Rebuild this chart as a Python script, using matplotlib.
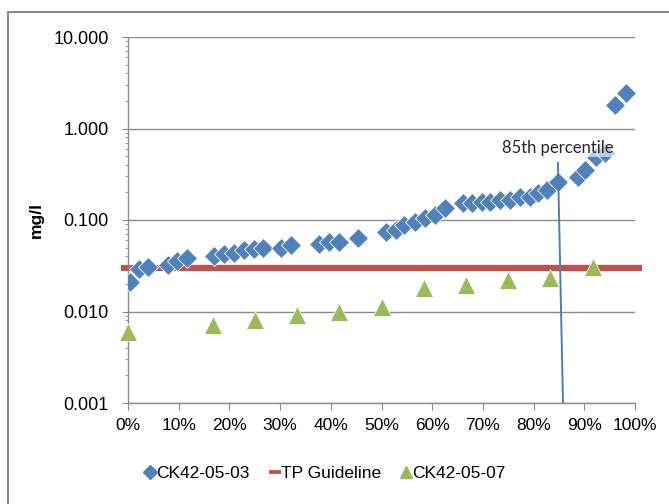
import matplotlib
matplotlib.use("Agg")
import matplotlib.pyplot as plt
from matplotlib.patches import Rectangle
from matplotlib.lines import Line2D
from matplotlib.ticker import LogLocator, NullFormatter

# ---- data ----
ck03_pct = [0.3, 2.2, 3.9, 7.8, 9.7, 11.7, 17.0, 19.0, 21.0, 22.9, 24.9, 26.6,
            30.2, 32.1, 37.7, 39.7, 41.7, 45.3, 50.9, 52.9, 54.5, 56.6, 58.6,
            60.5, 62.5, 66.1, 67.8, 69.8, 71.4, 73.4, 75.3, 77.3, 79.3, 80.9,
            82.6, 84.8, 88.8, 90.1, 92.4, 94.1, 96.1, 98.2]
ck03_val = [0.021, 0.029, 0.031, 0.032, 0.036, 0.038, 0.040, 0.042, 0.044, 0.047,
            0.048, 0.049, 0.050, 0.053, 0.055, 0.057, 0.057, 0.064, 0.074, 0.077,
            0.088, 0.096, 0.104, 0.113, 0.134, 0.152, 0.152, 0.158, 0.158, 0.165,
            0.165, 0.178, 0.180, 0.195, 0.212, 0.262, 0.297, 0.350, 0.490, 0.535,
            1.81, 2.43]
ck07_pct = [0.0, 16.7, 25.0, 33.3, 41.7, 50.0, 58.3, 66.7, 75.0, 83.3, 91.7]
ck07_val = [0.0060, 0.0071, 0.0081, 0.0092, 0.0100, 0.0113, 0.0179, 0.0195,
            0.0221, 0.0231, 0.0304]
tp_guideline = 0.03
pct85_line_x = [84.8, 85.8]
pct85_line_y = [0.42, 0.001]
x_ticks = [0, 10, 20, 30, 40, 50, 60, 70, 80, 90, 100]
x_ticklabels = ['0%', '10%', '20%', '30%', '40%', '50%', '60%', '70%', '80%', '90%', '100%']
y_ticks = [0.001, 0.01, 0.1, 1, 10]
y_ticklabels = ['0.001', '0.010', '0.100', '1.000', '10.000']

BLUE = '#4F81BD'
RED = '#C0504D'
GREEN = '#9BBB59'
GRID = '#8C8C8C'

fig = plt.figure(figsize=(6.69, 5.04), dpi=100)
fig.patch.set_facecolor('white')
ax = fig.add_axes([128/669, 1-403/504, (635-128)/669, (403-37)/504])

ax.set_yscale('log')
ax.set_ylim(0.001, 10)
ax.set_xlim(0, 100)

ax.set_yticks(y_ticks)
ax.set_yticklabels(y_ticklabels, fontfamily='Liberation Sans', fontsize=13)
ax.yaxis.set_minor_locator(LogLocator(base=10, subs=range(2, 10)))
ax.yaxis.set_minor_formatter(NullFormatter())
ax.set_xticks(x_ticks)
ax.set_xticklabels(x_ticklabels, fontfamily='Liberation Sans', fontsize=12.5)

ax.grid(axis='y', which='major', color=GRID, linewidth=1.0)
ax.set_axisbelow(True)
for s in ['top', 'right']:
    ax.spines[s].set_visible(False)
for s in ['left', 'bottom']:
    ax.spines[s].set_color(GRID)
    ax.spines[s].set_linewidth(1.0)
ax.tick_params(axis='y', which='major', length=4, color=GRID, pad=10)
ax.tick_params(axis='y', which='minor', length=2, color=GRID)
ax.tick_params(axis='x', which='major', length=5, color=GRID, pad=6)

# TP guideline
ax.plot([-1.3, 101.3], [tp_guideline, tp_guideline], color=RED, linewidth=4.5,
        solid_capstyle='butt', clip_on=False, zorder=2)
# series
ax.plot(ck03_pct, ck03_val, linestyle='none', marker='D', markersize=10,
        color=BLUE, markeredgecolor='white', markeredgewidth=0.6, zorder=3)
ax.plot(ck07_pct, ck07_val, linestyle='none', marker='^', markersize=13.5,
        color=GREEN, markeredgecolor='white', markeredgewidth=0.5, zorder=3, clip_on=False)
# 85th percentile line
ax.plot(pct85_line_x, pct85_line_y, color='#4A7EBB', linewidth=1.4, zorder=4)
ax.text(84.7, 0.50, '85th percentile', fontfamily='Lato', fontsize=12,
        color='#262626', ha='center', va='bottom', zorder=5,
        bbox=dict(facecolor='white', edgecolor='none', alpha=0.6, pad=0.5))

ax.set_ylabel('mg/l', fontfamily='Liberation Sans', fontsize=12.5, fontweight='bold')
ax.yaxis.set_label_coords(-0.165, 0.5)

handles = [
    Line2D([], [], linestyle='none', marker='D', markersize=7, color=BLUE),
    Line2D([], [], color=RED, linewidth=2.8),
    Line2D([], [], linestyle='none', marker='^', markersize=9, color=GREEN),
]
labels = ['CK42-05-03', 'TP Guideline', 'CK42-05-07']
leg = fig.legend(handles, labels, loc='center', bbox_to_anchor=(326/669, 1-473/504),
                 ncol=3, frameon=False, handlelength=0.45, handletextpad=0.15,
                 columnspacing=1.2, prop={'family': 'Liberation Sans', 'size': 12.5})

# chart-area border
fig.patches.append(Rectangle((8/669, -0.05), 1.2, 1 - 12/504 + 0.05,
                             transform=fig.transFigure, fill=False,
                             edgecolor='#8A8A8A', linewidth=1.5))

fig.savefig('out.png', dpi=100)
